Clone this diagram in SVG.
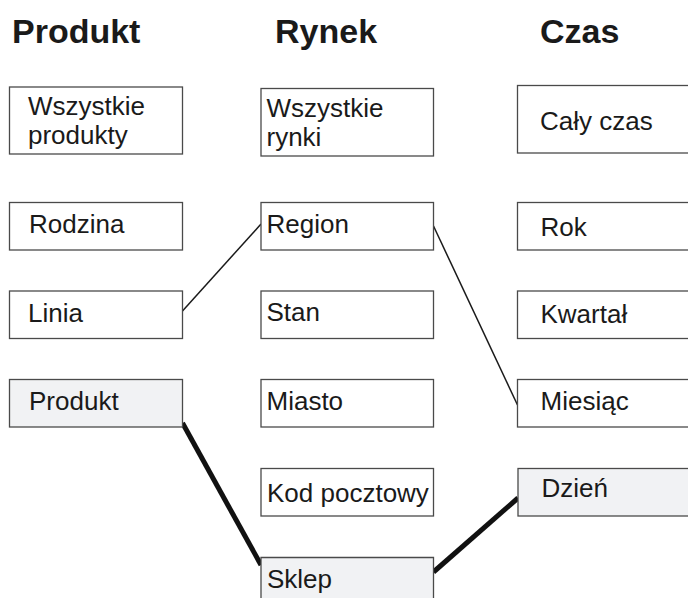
<svg xmlns="http://www.w3.org/2000/svg" width="688" height="601" viewBox="0 0 688 601">
  <style>
    .hdr { font-family: "Liberation Sans", Arial, sans-serif; font-weight: bold; font-size: 34px; fill: #1a1a1a; }
    .lbl { font-family: "Liberation Sans", Arial, sans-serif; font-size: 26px; fill: #1a1a1a; }
    .box { fill: #ffffff; stroke: #4a4a4a; stroke-width: 1.3; }
    .sel { fill: #f1f2f4; stroke: #4a4a4a; stroke-width: 1.3; }
    .thin { stroke: #1a1a1a; stroke-width: 1.5; fill: none; }
    .thick { stroke: #111111; stroke-width: 5; fill: none; }
  </style>
  <rect width="688" height="601" fill="#ffffff"/>

  <!-- column headings -->
  <g id="headers">
    <text class="hdr" x="12" y="43">Produkt</text>
    <text class="hdr" x="275" y="43">Rynek</text>
    <text class="hdr" x="540" y="43">Czas</text>
  </g>

  <!-- connectors between hierarchy levels -->
  <g id="connectors">
    <line class="thin" x1="182.5" y1="311" x2="261" y2="224"/>
    <line class="thin" x1="433.5" y1="226" x2="517.5" y2="405"/>
    <line class="thick" x1="182.5" y1="423" x2="261" y2="565"/>
    <line class="thick" x1="433.5" y1="572" x2="518" y2="498"/>
  </g>

  <!-- Produkt hierarchy -->
  <g id="p-all">
    <rect class="box" x="9.5" y="87" width="173" height="67"/>
    <text class="lbl" x="28" y="115">Wszystkie</text>
    <text class="lbl" x="28" y="144">produkty</text>
  </g>
  <g id="p-rodzina">
    <rect class="box" x="9.5" y="202.5" width="173" height="47.5"/>
    <text class="lbl" x="29" y="233">Rodzina</text>
  </g>
  <g id="p-linia">
    <rect class="box" x="9.5" y="291" width="173" height="47.5"/>
    <text class="lbl" x="28" y="321.5">Linia</text>
  </g>
  <g id="p-produkt">
    <rect class="sel" x="9.5" y="379.5" width="173" height="47.5"/>
    <text class="lbl" x="29" y="410">Produkt</text>
  </g>

  <!-- Rynek hierarchy -->
  <g id="r-all">
    <rect class="box" x="261" y="88.5" width="172.5" height="67.5"/>
    <text class="lbl" x="266.5" y="116.5">Wszystkie</text>
    <text class="lbl" x="266.5" y="146">rynki</text>
  </g>
  <g id="r-region">
    <rect class="box" x="261" y="202.5" width="172.5" height="47.5"/>
    <text class="lbl" x="266.5" y="232.5">Region</text>
  </g>
  <g id="r-stan">
    <rect class="box" x="261" y="291" width="172.5" height="47.5"/>
    <text class="lbl" x="266.5" y="320.5">Stan</text>
  </g>
  <g id="r-miasto">
    <rect class="box" x="261" y="379.5" width="172.5" height="47.5"/>
    <text class="lbl" x="266.5" y="409.5">Miasto</text>
  </g>
  <g id="r-kod">
    <rect class="box" x="261" y="468.5" width="172.5" height="47.5"/>
    <text class="lbl" x="267" y="501.5">Kod pocztowy</text>
  </g>
  <g id="r-sklep">
    <rect x="261" y="557.5" width="172.5" height="40.5" fill="#f1f2f4"/>
    <path d="M261,598 V557.5 H433.5 V598" fill="none" stroke="#4a4a4a" stroke-width="1.3"/>
    <text class="lbl" x="267" y="588">Sklep</text>
  </g>

  <!-- Czas hierarchy -->
  <g id="c-all">
    <rect class="box" x="517.5" y="85.5" width="190" height="67.5"/>
    <text class="lbl" x="540" y="130">Cały czas</text>
  </g>
  <g id="c-rok">
    <rect class="box" x="517.5" y="202.5" width="190" height="47.5"/>
    <text class="lbl" x="540.5" y="235.5">Rok</text>
  </g>
  <g id="c-kwartal">
    <rect class="box" x="517.5" y="291" width="190" height="47.5"/>
    <text class="lbl" x="540.5" y="322.5">Kwartał</text>
  </g>
  <g id="c-miesiac">
    <rect class="box" x="517.5" y="379.5" width="190" height="47.5"/>
    <text class="lbl" x="540.5" y="410">Miesiąc</text>
  </g>
  <g id="c-dzien">
    <rect class="sel" x="518" y="468.5" width="190" height="47.5"/>
    <text class="lbl" x="541.5" y="497">Dzień</text>
  </g>
</svg>
